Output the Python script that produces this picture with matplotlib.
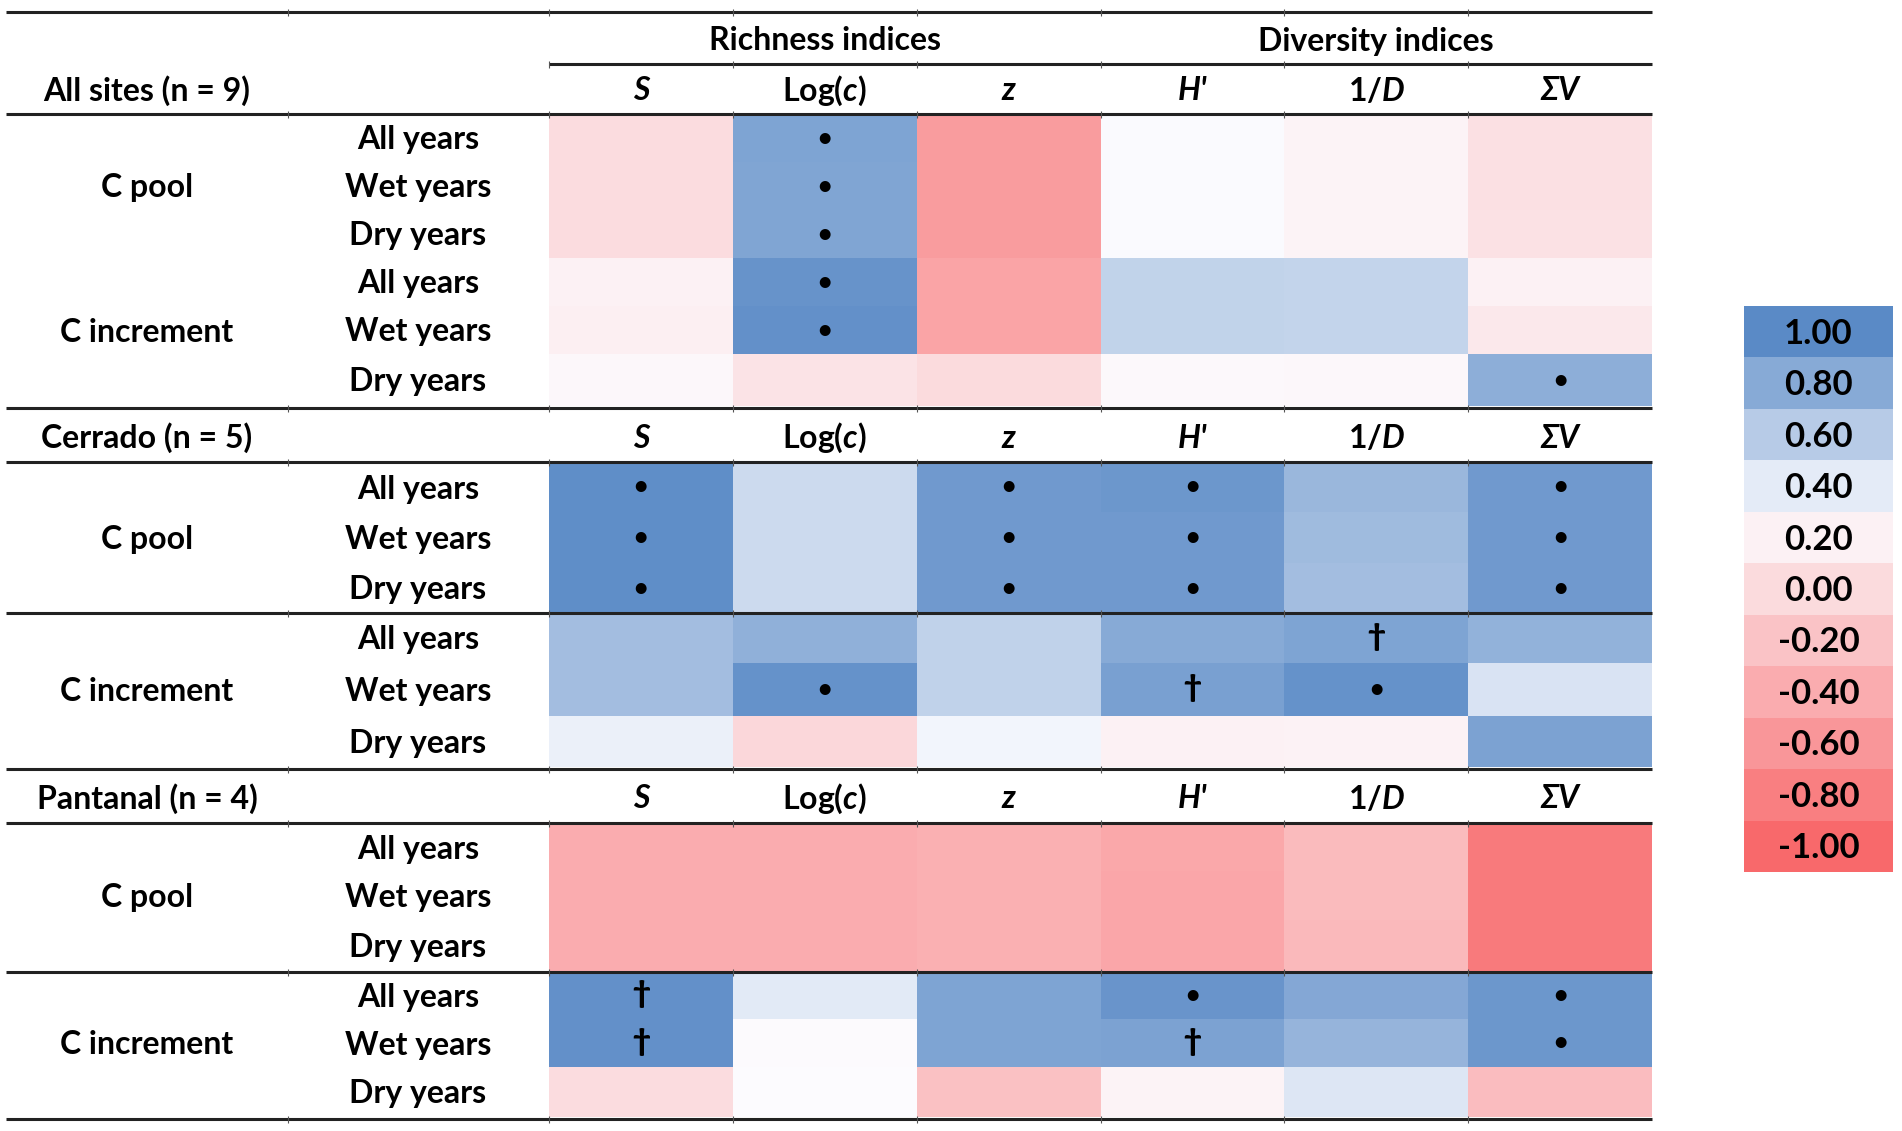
import matplotlib
matplotlib.use("Agg")
import matplotlib.pyplot as plt
from matplotlib.colors import LinearSegmentedColormap, Normalize

plt.rcParams["font.family"] = ["Lato", "DejaVu Sans"]
plt.rcParams["mathtext.fontset"] = "custom"
plt.rcParams["mathtext.rm"] = "Lato:bold"
plt.rcParams["mathtext.it"] = "Lato:bold:italic"
plt.rcParams["mathtext.bf"] = "Lato:bold"

# ---- data (colour-scale values) ----
sites = ["All sites (n = 9)", "Cerrado (n = 5)", "Pantanal (n = 4)"]
pools = ["C pool", "C increment"]
periods = ["All years", "Wet years", "Dry years"]
index_labels = ["S", "Log($c$)", "z", "H'", "1/$D$", "ΣV"]
index_italic = [True, False, True, True, False, True]
group_labels = ["Richness indices", "Diversity indices"]
legend_values = [1.00, 0.80, 0.60, 0.40, 0.20, 0.00, -0.20, -0.40, -0.60, -0.80, -1.00]

# rows: C pool (all, wet, dry), C increment (all, wet, dry); cols: S, Log(c), z, H', 1/D, ΣV
all_sites_vals = [
    [0.02, 0.84, -0.55, 0.31, 0.22, 0.05],
    [0.02, 0.83, -0.55, 0.31, 0.22, 0.05],
    [0.02, 0.83, -0.55, 0.31, 0.22, 0.06],
    [0.20, 0.94, -0.48, 0.55, 0.54, 0.20],
    [0.18, 0.96, -0.48, 0.55, 0.54, 0.12],
    [0.25, 0.08, 0.00, 0.26, 0.25, 0.78],
]
cerrado_vals = [
    [0.97, 0.50, 0.90, 0.92, 0.72, 0.90],
    [0.97, 0.50, 0.90, 0.90, 0.70, 0.90],
    [0.97, 0.50, 0.90, 0.90, 0.68, 0.90],
    [0.68, 0.76, 0.56, 0.80, 0.84, 0.75],
    [0.68, 0.95, 0.56, 0.86, 0.95, 0.45],
    [0.37, -0.03, 0.34, 0.20, 0.21, 0.85],
]
pantanal_vals = [
    [-0.40, -0.40, -0.37, -0.44, -0.28, -0.85],
    [-0.40, -0.40, -0.37, -0.46, -0.28, -0.85],
    [-0.40, -0.40, -0.37, -0.46, -0.29, -0.85],
    [0.96, 0.41, 0.84, 0.93, 0.82, 0.92],
    [0.96, 0.28, 0.84, 0.85, 0.74, 0.92],
    [0.02, 0.29, -0.22, 0.22, 0.43, -0.26],
]
all_sites_marks = [
    ["", "•", "", "", "", ""],
    ["", "•", "", "", "", ""],
    ["", "•", "", "", "", ""],
    ["", "•", "", "", "", ""],
    ["", "•", "", "", "", ""],
    ["", "", "", "", "", "•"],
]
cerrado_marks = [
    ["•", "", "•", "•", "", "•"],
    ["•", "", "•", "•", "", "•"],
    ["•", "", "•", "•", "", "•"],
    ["", "", "", "", "†", ""],
    ["", "•", "", "†", "•", ""],
    ["", "", "", "", "", ""],
]
pantanal_marks = [
    ["", "", "", "", "", ""],
    ["", "", "", "", "", ""],
    ["", "", "", "", "", ""],
    ["†", "", "", "•", "", "•"],
    ["†", "", "", "†", "", "•"],
    ["", "", "", "", "", ""],
]
block_vals = [all_sites_vals, cerrado_vals, pantanal_vals]
block_marks = [all_sites_marks, cerrado_marks, pantanal_marks]

# ---- layout (pixel coordinates, y downwards) ----
W, H = 1902, 1131
X0, X1 = 6, 1652
COL_LEFT = 549
COL_W = (X1 - COL_LEFT) / 6
SITE_X, PERIOD_X = 147, 418
header_y = [91, 438, 799]
row_edges = [
    [114, 162, 210, 258, 306, 354, 406],
    [462, 512, 563, 613, 663, 716, 767],
    [823, 871, 920, 972, 1019, 1067, 1117],
]
hlines = [12, 114, 408, 462, 613, 769, 823, 972, 1119]
FS = 23
DY = 2  # text sits slightly below the geometric centre

cmap = LinearSegmentedColormap.from_list(
    "xl_scale", [(0.0, "#F8696B"), (0.65, "#FCFCFF"), (1.0, "#5A8AC6")])
norm = Normalize(vmin=-1, vmax=1)

fig = plt.figure(figsize=(W / 100, H / 100), dpi=100)
ax = fig.add_axes([0, 0, 1, 1])
ax.set_xlim(0, W)
ax.set_ylim(H, 0)
ax.axis("off")

col_edges = [COL_LEFT + i * COL_W for i in range(7)]
col_centers = [COL_LEFT + (i + 0.5) * COL_W for i in range(6)]

for b in range(3):
    edges = row_edges[b]
    ax.pcolormesh(col_edges, edges, block_vals[b], cmap=cmap, norm=norm, shading="flat")
    centers = [(edges[i] + edges[i + 1]) / 2 + DY for i in range(6)]
    for r in range(6):
        ax.text(PERIOD_X, centers[r], periods[r % 3], ha="center", va="center",
                fontsize=FS, fontweight="bold")
        for c in range(6):
            m = block_marks[b][r][c]
            if m == "•":
                ax.text(col_centers[c], centers[r] - 2, m, ha="center", va="center",
                        fontsize=FS - 5, fontweight="bold", color="black")
            elif m:
                ax.text(col_centers[c], centers[r] - 3, m, ha="center", va="center",
                        fontsize=FS - 1, fontweight="heavy", color="black")
    ax.text(SITE_X, centers[1], pools[0], ha="center", va="center", fontsize=FS, fontweight="bold")
    ax.text(SITE_X, centers[4], pools[1], ha="center", va="center", fontsize=FS, fontweight="bold")
    # header row
    ax.text(SITE_X, header_y[b], sites[b], ha="center", va="center", fontsize=FS, fontweight="bold")
    for c in range(6):
        ax.text(col_centers[c], header_y[b], index_labels[c], ha="center", va="center",
                fontsize=FS, fontweight="bold", style="italic" if index_italic[c] else "normal")

# group headers
ax.text((col_edges[0] + col_edges[3]) / 2, 41, group_labels[0], ha="center", va="center",
        fontsize=FS, fontweight="bold")
ax.text((col_edges[3] + col_edges[6]) / 2, 41, group_labels[1], ha="center", va="center",
        fontsize=FS, fontweight="bold")

# rules
ax.hlines(hlines, X0, X1, color="#222222", lw=2.2)
ax.hlines([64], COL_LEFT, X1, color="#222222", lw=2.2)
tick_x = [288] + col_edges[:-1]
for y in hlines + [64]:
    xs = [x for x in tick_x if y != 64 or x >= COL_LEFT]
    ax.vlines(xs, y - 3, y + 4, color="#555555", lw=0.8)

# legend
LX0, LX1 = 1744, 1893
LY0, LY1 = 306, 872
n = len(legend_values)
leg_edges = [LY0 + i * (LY1 - LY0) / n for i in range(n + 1)]
ax.pcolormesh([LX0, LX1], leg_edges, [[v] for v in legend_values], cmap=cmap, norm=norm)
for i, v in enumerate(legend_values):
    ax.text((LX0 + LX1) / 2, (leg_edges[i] + leg_edges[i + 1]) / 2 + DY, f"{v:.2f}",
            ha="center", va="center", fontsize=25, fontweight="bold")

fig.savefig("out.png", dpi=100)
